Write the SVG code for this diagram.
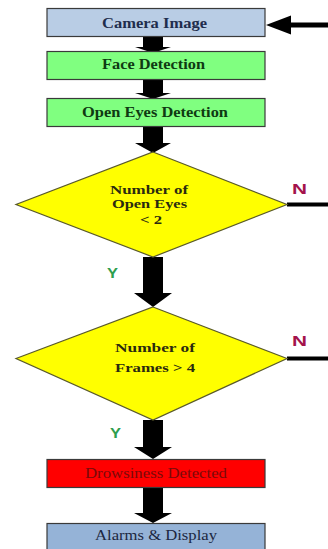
<svg xmlns="http://www.w3.org/2000/svg" width="328" height="549" viewBox="0 0 328 549">
  <style>
    .box { stroke: #3a3a3a; stroke-width: 1.2; }
    .cam { fill: #b9cde5; }
    .green { fill: #80ff80; }
    .red { fill: #ff0000; }
    .alarm { fill: #95b3d7; }
    .dia { fill: #ffff00; stroke: #5a5a2a; stroke-width: 1.2; }
    .lbl { font-family: "Liberation Serif", "Times New Roman", serif; font-size: 15px; font-weight: bold; text-anchor: middle; }
    .dlbl { font-family: "Liberation Serif", "Times New Roman", serif; font-size: 13px; font-weight: bold; text-anchor: middle; fill: #2a2a10; }
    .reg { font-weight: normal; }
    .flag { font-family: "Liberation Sans", Arial, sans-serif; font-weight: bold; font-size: 14px; }
    .arrow { fill: #000000; }
  </style>

  <g id="connectors">
    <!-- loop-back arrow into Camera Image -->
    <rect class="arrow" x="289" y="22.5" width="39" height="5"/>
    <polygon class="arrow" points="266,25 291,15.5 291,34.5"/>
    <!-- Camera Image -> Face Detection -->
    <path class="arrow" d="M143,36 H163 V47 H171 L153,53 L135,47 H143 Z"/>
    <!-- Face Detection -> Open Eyes Detection -->
    <path class="arrow" d="M143,79 H163 V93 H171 L153,99 L135,93 H143 Z"/>
    <!-- Open Eyes Detection -> decision 1 -->
    <path class="arrow" d="M143,127 H163 V143 H171 L153,153 L135,143 H143 Z"/>
    <!-- decision 1 (Y) -> decision 2 -->
    <path class="arrow" d="M143,257 H163 V293 H172 L153,307 L134,293 H143 Z"/>
    <!-- decision 2 (Y) -> Drowsiness Detected -->
    <path class="arrow" d="M143,420 H163 V447 H172 L153,459 L134,447 H143 Z"/>
    <!-- Drowsiness Detected -> Alarms & Display -->
    <path class="arrow" d="M143,487 H163 V513 H172 L153,523 L134,513 H143 Z"/>
    <!-- N branches -->
    <rect class="arrow" x="287" y="202.5" width="41" height="4"/>
    <rect class="arrow" x="287" y="356.5" width="41" height="4"/>
    <!-- branch labels -->
    <text class="flag" x="292" y="193.5" fill="#a3134b" textLength="15" lengthAdjust="spacingAndGlyphs">N</text>
    <text class="flag" x="292" y="345.5" fill="#a3134b" textLength="15" lengthAdjust="spacingAndGlyphs">N</text>
    <text class="flag" x="107" y="277.5" fill="#2e9e4e" font-size="13" textLength="11" lengthAdjust="spacingAndGlyphs">Y</text>
    <text class="flag" x="110" y="437.5" fill="#2e9e4e" font-size="13" textLength="11" lengthAdjust="spacingAndGlyphs">Y</text>
  </g>

  <g id="camera-image">
    <rect class="box cam" x="47" y="8.5" width="218" height="28"/>
    <text class="lbl" x="154.5" y="28" fill="#1f2d4d" textLength="105" lengthAdjust="spacingAndGlyphs">Camera Image</text>
  </g>

  <g id="face-detection">
    <rect class="box green" x="47" y="51.5" width="218" height="28"/>
    <text class="lbl" x="153.5" y="68.5" fill="#0f3a12" textLength="103" lengthAdjust="spacingAndGlyphs">Face Detection</text>
  </g>

  <g id="open-eyes-detection">
    <rect class="box green" x="47" y="98.5" width="218" height="28"/>
    <text class="lbl" x="155" y="117" fill="#0f3a12" textLength="146" lengthAdjust="spacingAndGlyphs">Open Eyes Detection</text>
  </g>

  <g id="decision-open-eyes">
    <polygon class="dia" points="153,152 287,204.5 153,257 16,204.5"/>
    <text class="dlbl" x="149" y="194" textLength="78" lengthAdjust="spacingAndGlyphs">Number of</text>
    <text class="dlbl" x="149.5" y="208" textLength="75" lengthAdjust="spacingAndGlyphs">Open Eyes</text>
    <text class="dlbl" x="151" y="223.5" textLength="22" lengthAdjust="spacingAndGlyphs">&lt; 2</text>
  </g>

  <g id="decision-frames">
    <polygon class="dia" points="153,307 287,358.5 153,420 16,358.5"/>
    <text class="dlbl" x="155" y="352" textLength="80" lengthAdjust="spacingAndGlyphs">Number of</text>
    <text class="dlbl" x="155" y="372" textLength="80" lengthAdjust="spacingAndGlyphs">Frames &gt; 4</text>
  </g>

  <g id="drowsiness-detected">
    <rect class="box red" x="47" y="459.5" width="218" height="28"/>
    <text class="lbl reg" x="156" y="477.5" fill="#7a0a0a" textLength="142" lengthAdjust="spacingAndGlyphs">Drowsiness Detected</text>
  </g>

  <g id="alarms-display">
    <rect class="box alarm" x="47" y="523.5" width="218" height="30"/>
    <text class="lbl reg" x="156" y="540" fill="#1c2740" textLength="122" lengthAdjust="spacingAndGlyphs">Alarms &amp; Display</text>
  </g>
</svg>
